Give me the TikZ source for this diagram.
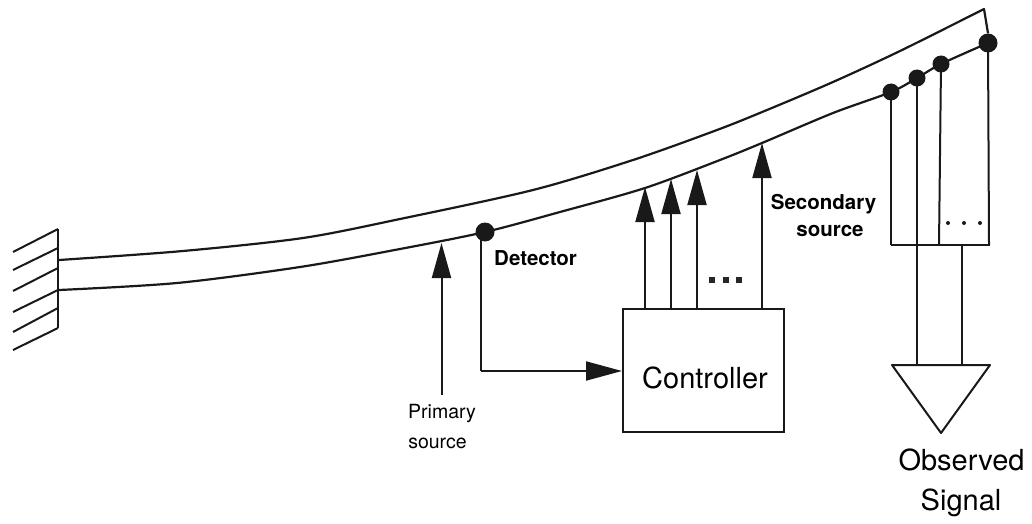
\documentclass[tikz,border=0pt]{standalone}
\usepackage{fontspec}
\setmainfont{TeX Gyre Heros}
\usetikzlibrary{arrows.meta}
\tikzset{
  ln/.style={line width=2pt,black!90},
  beam/.style={line width=2.2pt,black!90,line join=round},
  hatch/.style={line width=2pt,black!90},
  bigarrow/.style={ln,-{Triangle[length=35pt,width=19pt]}},
  dotnode/.style={circle,fill=black!90,inner sep=0pt,minimum size=19pt},
  tinydot/.style={circle,fill=black!90,inner sep=0pt,minimum size=4pt},
  squaredot/.style={rectangle,fill=black!85,inner sep=0pt,minimum size=6pt},
  bigtxt/.style={font=\fontsize{29}{32}\selectfont,inner sep=0pt},
  midtxt/.style={font=\fontsize{19.5}{22}\selectfont,inner sep=0pt},
  boldtxt/.style={font=\fontsize{20.5}{23}\selectfont\bfseries,inner sep=0pt},
}
\begin{document}
\begin{tikzpicture}[x=1pt,y=1pt]
\useasboundingbox (0,0) rectangle (1032,-524);
% beam nodes
\node[dotnode] (det) at (485,-232) {};
\node[dotnode,minimum size=17pt] (s1) at (891,-92) {};
\node[dotnode,minimum size=17pt] (s2) at (917,-78) {};
\node[dotnode,minimum size=17pt] (s3) at (941,-64) {};
\node[dotnode] (s4) at (988,-43) {};
% wall
\coordinate (wt) at (58,-229);
\coordinate (wb) at (58,-328);
\draw[hatch] (wt) -- (wb);
\foreach \a/\b in {229/252,248/270,268/291,290/312,308/332,328/350}
  \draw[hatch] (58,-\a) -- (13,-\b);
% beam
\coordinate (tip) at (984,-9);
\draw[beam] plot[smooth,tension=0.5] coordinates {(59,-260) (183,-251) (303,-238) (400,-219) (533,-190) (633,-160) (717,-130) (767,-110) (833,-82) (900,-51) (tip)} -- (s4.north);
\draw[beam] plot[smooth,tension=0.5] coordinates {(59,-290) (177,-283) (300,-267) (400,-249) (det.center) (560,-212) (645,-188) (720,-160) (762,-143) (833,-113) (s1.center) (s2.center) (s3.center) (s4.center)};
% controller
\node[draw=black!90,line width=2pt,minimum width=161pt,minimum height=123pt,inner sep=0pt] (ctrl) at (703.5,-370.5) {};
\node[bigtxt] (ctrltxt) at (705,-378) {Controller};
% secondary arrows
\coordinate (a1) at (645,-187);
\coordinate (a2) at (671,-179);
\coordinate (a3) at (697,-170);
\coordinate (a4) at (762,-143);
\draw[bigarrow] (a1 |- ctrl.north) -- (a1);
\draw[bigarrow] (a2 |- ctrl.north) -- (a2);
\draw[bigarrow] (a3 |- ctrl.north) -- (a3);
\draw[bigarrow] (a4 |- ctrl.north) -- (a4);
% primary
\coordinate (p0) at (441.5,-395);
\coordinate (p1) at (441.5,-243);
\draw[bigarrow] (p0) -- (p1);
% detector line
\coordinate (dcorner) at (481,-371);
\draw[ln] (481,-232) -- (dcorner);
\draw[ln,-{Triangle[length=36pt,width=19pt]}] (dcorner) -- (ctrl.west |- dcorner);
% sensors
\coordinate (barL) at (891,-245);
\coordinate (barR) at (990,-245);
\draw[ln] (barL) -- (barR);
\draw[ln] (s1.center) -- (barL);
\draw[ln] (s2.center) -- (917,-245);
\draw[ln] (s3.center) -- (939,-245);
\draw[ln] (s4.center) -- (989,-245);
% triangle (amplifier)
\coordinate (tl) at (892,-365);
\coordinate (tr) at (990,-365);
\coordinate (tb) at (941,-433);
\draw[ln,line join=round] (tl) -- (tr) -- (tb) -- cycle;
\draw[ln] (917,-245) -- (917,-365);
\draw[ln] (962,-245) -- (962,-365);
% dots
\node[tinydot] (d1) at (948,-223) {};
\node[tinydot] (d2) at (964,-223) {};
\node[tinydot] (d3) at (980,-223) {};
\node[squaredot] (e1) at (712,-280) {};
\node[squaredot] (e2) at (726,-280) {};
\node[squaredot] (e3) at (739,-280) {};
% labels
\node[midtxt] (prim) at (442,-414) {Primary};
\node[midtxt] (src) at (437.5,-443) {source};
\node[boldtxt,anchor=west] (dett) at (494,-258) {Detector};
\node[boldtxt] (sec1) at (823.5,-204) {Secondary};
\node[boldtxt] (sec2) at (830,-231) {source};
\node[bigtxt] (obs) at (961.5,-460) {Observed};
\node[bigtxt] (sig) at (961,-503) {Signal};
\end{tikzpicture}
\end{document}
